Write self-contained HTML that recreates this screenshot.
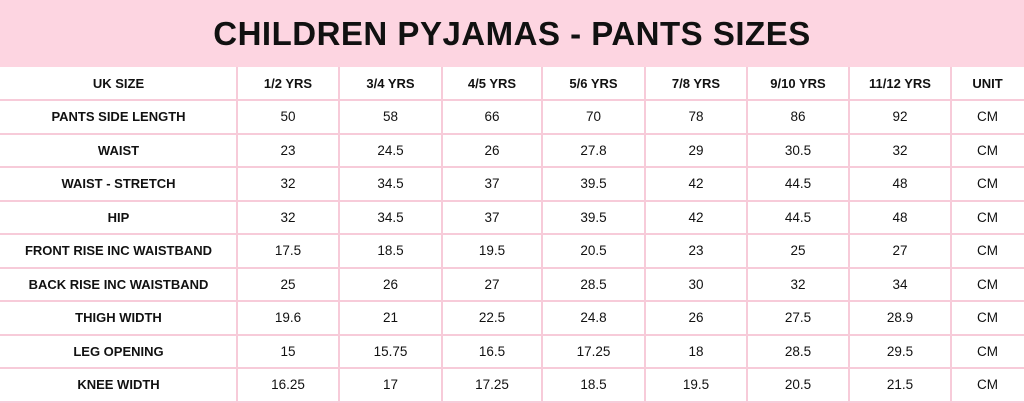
<!DOCTYPE html>
<html><head><style>
body{margin:0;width:1024px;height:403px;background:#fff;overflow:hidden;font-family:"Liberation Sans",sans-serif;color:#111;}
.hd{position:absolute;left:0;top:0;width:1024px;height:67px;background:#fdd5e1;text-align:center;font-weight:bold;font-size:33px;line-height:67px;letter-spacing:0.5px;}
.vl{position:absolute;top:67px;height:336px;width:2px;background:#f7cbd9;}
.hl{position:absolute;left:0;width:1024px;height:2px;background:#f7cbd9;}
.c{position:absolute;text-align:center;font-size:13.5px;line-height:34px;height:34px;}
.b{font-weight:bold;font-size:13px;}
</style></head><body>
<div class="hd">CHILDREN PYJAMAS - PANTS SIZES</div>
<div id="g"></div>
<script>
var xs=[0,237,339,442,542,645,747,849,951,1024];
var ys=[67,100,134,167,201,234,268,301,335,368,402];
var rows=[["UK SIZE","1/2 YRS","3/4 YRS","4/5 YRS","5/6 YRS","7/8 YRS","9/10 YRS","11/12 YRS","UNIT"],
["PANTS SIDE LENGTH","50","58","66","70","78","86","92","CM"],
["WAIST","23","24.5","26","27.8","29","30.5","32","CM"],
["WAIST - STRETCH","32","34.5","37","39.5","42","44.5","48","CM"],
["HIP","32","34.5","37","39.5","42","44.5","48","CM"],
["FRONT RISE INC WAISTBAND","17.5","18.5","19.5","20.5","23","25","27","CM"],
["BACK RISE INC WAISTBAND","25","26","27","28.5","30","32","34","CM"],
["THIGH WIDTH","19.6","21","22.5","24.8","26","27.5","28.9","CM"],
["LEG OPENING","15","15.75","16.5","17.25","18","28.5","29.5","CM"],
["KNEE WIDTH","16.25","17","17.25","18.5","19.5","20.5","21.5","CM"]];
var h="";
for(var i=1;i<xs.length-1;i++)h+='<div class="vl" style="left:'+(xs[i]-1)+'px"></div>';
for(var j=1;j<ys.length;j++)h+='<div class="hl" style="top:'+(ys[j]-1)+'px"></div>';
for(var r=0;r<rows.length;r++)for(var c=0;c<9;c++){
var cls=(r==0||c==0)?"c b":"c";
h+='<div class="'+cls+'" style="left:'+xs[c]+'px;width:'+(xs[c+1]-xs[c])+'px;top:'+ys[r]+'px">'+rows[r][c]+'</div>';}
document.getElementById("g").innerHTML=h;
</script>
</body></html>
